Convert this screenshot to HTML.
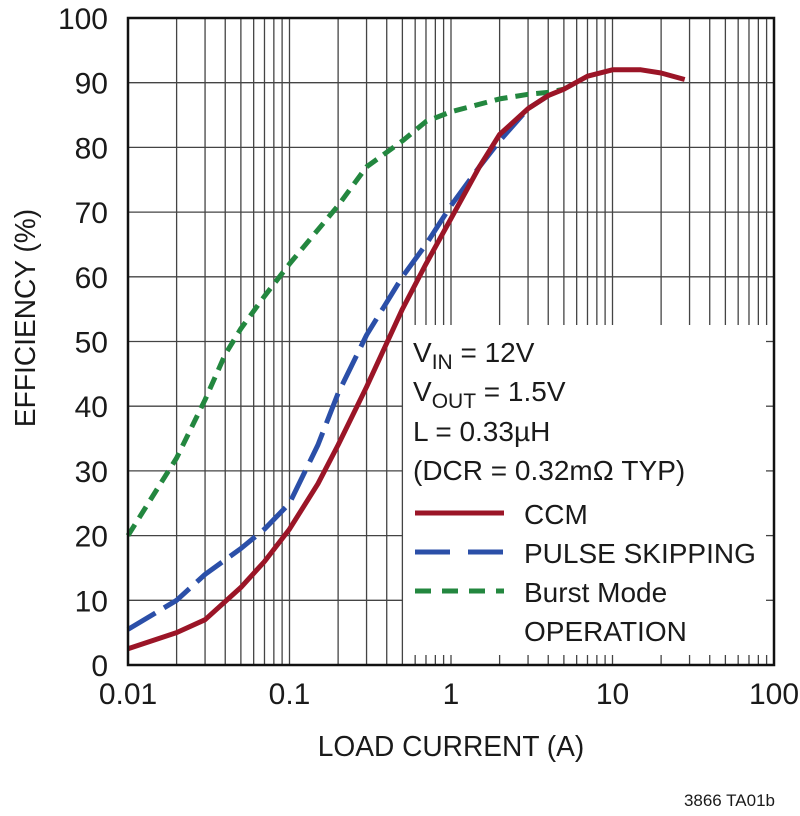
<!DOCTYPE html>
<html><head><meta charset="utf-8"><style>
html,body{margin:0;padding:0;background:#fff;}
svg text{font-family:"Liberation Sans",sans-serif;fill:#1a1a1a;}
</style></head><body>
<svg id="chart" width="800" height="811" viewBox="0 0 800 811" xmlns="http://www.w3.org/2000/svg">
<g id="grid"></g>
<g id="series"></g>
<g id="legendbox"></g>
<rect x="128" y="18" width="646" height="647" fill="none" stroke="#111" stroke-width="2.5"/>
<g id="labels"></g>
<text transform="translate(35,318) rotate(-90) scale(0.97,1)" text-anchor="middle" font-size="29">EFFICIENCY (%)</text>
<text transform="translate(451,756) scale(0.97,1)" text-anchor="middle" font-size="29">LOAD CURRENT (A)</text>
<text transform="translate(775,806)" text-anchor="end" font-size="17">3866 TA01b</text>
</svg>
<script>
const xTicks=[0.01,0.1,1,10,100];
const xTickLabels=["0.01","0.1","1","10","100"];
const yTicks=[0,10,20,30,40,50,60,70,80,90,100];
const ccmX=[0.01,0.02,0.03,0.05,0.07,0.1,0.15,0.2,0.3,0.5,0.7,1,1.5,2,3,4,5,7,10,15,20,28];
const ccmY=[2.5,5,7,12,16,21,28,34,43,55,62,69,77,82,86,88,89,91,92,92,91.5,90.5];
const psX=[0.01,0.02,0.03,0.05,0.07,0.1,0.15,0.2,0.3,0.5,0.7,1,1.5,2,3,4];
const psY=[5.5,10,14,18,21,25,34,42,51,60,65,71,77,81,86,88];
const bmX=[0.01,0.02,0.03,0.04,0.05,0.07,0.1,0.2,0.3,0.5,0.7,1,2,3,4,5];
const bmY=[20,32,41,48,52,57,62,71,77,81,84,85.5,87.5,88.2,88.5,89];
const NS="http://www.w3.org/2000/svg";
const L=128,R=774,T=18,B=665;
const sx=v=>L+(Math.log10(v)+2)/4*(R-L);
const sy=v=>B-v/100*(B-T);
function mk(tag,attrs,parent){const e=document.createElementNS(NS,tag);for(const k in attrs)e.setAttribute(k,attrs[k]);parent.appendChild(e);return e;}
const grid=document.getElementById('grid');
const BX=403,BY=325;
for(let d=-2;d<2;d++){for(let m=1;m<=9;m++){const v=m*Math.pow(10,d);const x=sx(v);
 const ln=mk('line',{x1:x,x2:x,y1:T,y2:(x>BX?BY:B),stroke:'#444','stroke-width':1.3},grid);
 
 
 if(x>BX){const t=mk('line',{x1:x,x2:x,y1:B-10,y2:B,stroke:'#444','stroke-width':1.3},grid);
 
 }}}
yTicks.forEach(v=>{const y=sy(v);
 const ln=mk('line',{x1:L,x2:(y>BY?BX:R),y1:y,y2:y,stroke:'#444','stroke-width':1.3},grid);
 
 
 if(y>BY){const t=mk('line',{x1:R-8,x2:R,y1:y,y2:y,stroke:'#444','stroke-width':1.3},grid);
 
 }});
const ser=document.getElementById('series');
function path(xs,ys,color,dash,name){const d=xs.map((x,i)=>(i?'L':'M')+sx(x).toFixed(1)+','+sy(ys[i]).toFixed(1)).join('');
 const p=mk('path',{d:d,fill:'none',stroke:color,'stroke-width':5,'stroke-linejoin':'round'},ser);
 if(dash)p.setAttribute('stroke-dasharray',dash);
 
 }
path(bmX,bmY,'#23873f','13,8','burst-mode-line');
path(psX,psY,'#2b4fa8','32,10','pulse-skipping-line');
path(ccmX,ccmY,'#9b1527',null,'ccm-line');
const lab=document.getElementById('labels');
yTicks.forEach(v=>{const t=mk('text',{transform:`translate(108,${sy(v)+11})`,'text-anchor':'end','font-size':30},lab);t.textContent=String(v);
 
 });
xTicks.forEach((v,i)=>{const t=mk('text',{transform:`translate(${sx(v)},${704})`,'text-anchor':'middle','font-size':30},lab);t.textContent=xTickLabels[i];
 
 });
const lg=document.getElementById('legendbox');
const lt=(x,y,html,name)=>{const t=mk('text',{transform:`translate(${x},${y})`,'font-size':28},lg);t.innerHTML=html;
 
 };
lt(413,362,'V<tspan font-size="21" dy="7">IN</tspan><tspan dy="-7"> = 12V</tspan>','legend-vin');
lt(413,401,'V<tspan font-size="21" dy="7">OUT</tspan><tspan dy="-7"> = 1.5V</tspan>','legend-vout');
lt(413,441,'L = 0.33µH','legend-inductance');
lt(413,480,'(DCR = 0.32mΩ TYP)','legend-dcr');
const sw=(y,c,dash,name)=>{const l=mk('line',{x1:415,x2:504,y1:y,y2:y,stroke:c,'stroke-width':5},lg);if(dash)l.setAttribute('stroke-dasharray',dash);
 
 };
sw(513,'#9b1527',null,'legend-ccm-swatch');lt(524,524,'CCM','legend-ccm');
sw(552,'#2b4fa8','35,18','legend-ps-swatch');lt(524,563,'PULSE SKIPPING','legend-pulse-skipping');
sw(591,'#23873f','16,11','legend-burst-swatch');lt(524,602,'Burst Mode','legend-burst');
lt(524,641,'OPERATION','legend-burst-2');
</script>
</body></html>
